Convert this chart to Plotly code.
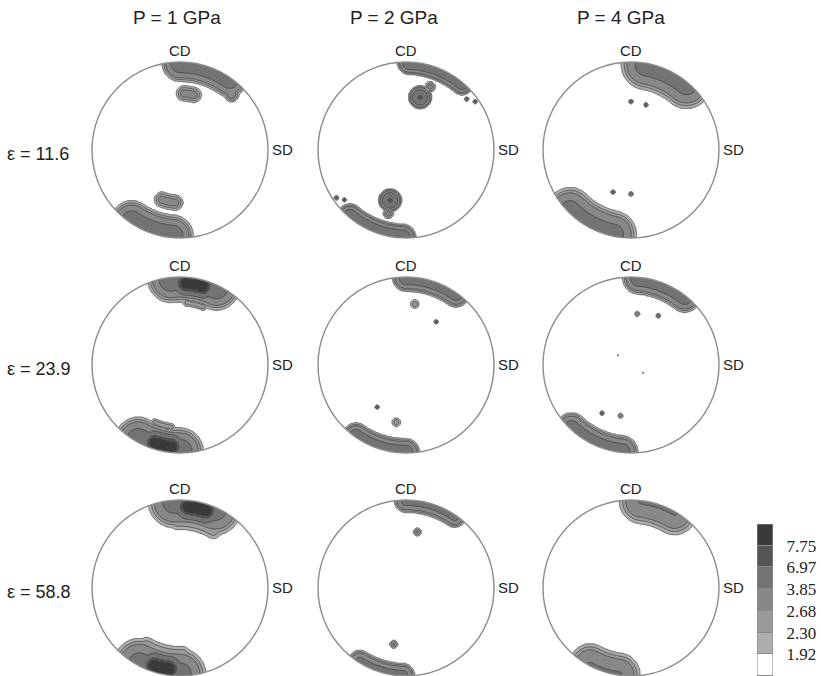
import numpy as np
import plotly.graph_objects as go

# ---------------- data ----------------
levels = [1.92, 2.30, 2.68, 3.85, 6.97, 7.75]
level_labels = ["1.92", "2.30", "2.68", "3.85", "6.97", "7.75"]
band_colors = ["#ffffff", "#aeaeae", "#9a9a9a", "#888888", "#737373", "#555555", "#3a3a3a"]
pressures = ["P = 1 GPa", "P = 2 GPa", "P = 4 GPa"]
strains = ["ε = 11.6", "ε = 23.9", "ε = 58.8"]

# pole-figure texture components:
# (start angle deg, end angle deg, radial position, peak intensity, spread)
# angle 90 = CD (top), 0 = SD (right); radius 1 = rim
e11_p1 = [(90, 55, 0.98, 5.0, 0.145), (47, 47, 0.86, 3.2, 0.08), (86, 76, 0.645, 3.0, 0.09),
          (236, 265, 0.98, 5.0, 0.17), (229, 229, 0.85, 2.7, 0.07), (250, 265, 0.60, 3.0, 0.09)]
e11_p2 = [(88, 50, 0.99, 5.5, 0.09), (75, 75, 0.62, 7.2, 0.08), (69, 69, 0.77, 3.0, 0.06),
          (40, 40, 0.90, 3.0, 0.025), (35, 35, 0.96, 3.0, 0.025),
          (230, 268, 0.99, 5.5, 0.10), (252.5, 252.5, 0.60, 7.2, 0.08), (254.5, 254.5, 0.75, 3.0, 0.06),
          (214.5, 214.5, 0.96, 3.0, 0.025), (219, 219, 0.90, 3.0, 0.025)]
e11_p4 = [(80, 50, 0.98, 4.6, 0.21), (90, 90, 0.55, 3.0, 0.025), (71.6, 71.6, 0.54, 3.0, 0.025),
          (225, 258, 0.98, 4.6, 0.20), (247, 247, 0.52, 3.0, 0.025), (270, 270, 0.50, 3.0, 0.025)]
e24_p1 = [(96, 65, 0.98, 5.0, 0.19), (86, 74, 0.93, 9.5, 0.10), (84, 68, 0.71, 2.5, 0.05),
          (241, 270, 0.98, 5.0, 0.19), (252, 264, 0.93, 9.5, 0.10), (262, 246, 0.71, 2.5, 0.05)]
e24_p2 = [(90, 55, 0.99, 5.0, 0.11), (81.7, 81.7, 0.70, 2.6, 0.06), (55, 55, 0.60, 3.0, 0.025),
          (235, 270, 0.99, 5.0, 0.11), (260.4, 260.4, 0.66, 2.6, 0.06), (235.5, 235.5, 0.58, 3.0, 0.025)]
e24_p4 = [(85, 52, 0.99, 5.0, 0.13), (83, 83, 0.585, 2.6, 0.035), (61, 61, 0.64, 3.0, 0.025),
          (143.7, 143.7, 0.186, 2.1, 0.02), (327, 327, 0.166, 2.1, 0.02),
          (227, 264, 0.99, 5.0, 0.13), (258.3, 258.3, 0.59, 2.6, 0.035), (239, 239, 0.64, 3.0, 0.025)]
e59_p1 = [(94, 66, 0.98, 4.6, 0.22), (84, 72, 0.93, 9.5, 0.11), (92, 60, 0.76, 2.6, 0.12),
          (242, 270, 0.98, 4.6, 0.22), (252, 262, 0.93, 9.5, 0.11), (272, 240, 0.76, 2.6, 0.12)]
e59_p2 = [(90, 56, 0.99, 4.5, 0.10), (78.5, 78.5, 0.65, 2.8, 0.05),
          (238, 268, 0.99, 4.5, 0.10), (257.7, 257.7, 0.655, 2.8, 0.05)]
e59_p4 = [(83, 60, 0.99, 3.9, 0.21), (242, 262, 0.99, 3.9, 0.20)]

panels = [[e11_p1, e11_p2, e11_p4],
          [e24_p1, e24_p2, e24_p4],
          [e59_p1, e59_p2, e59_p4]]

# ---------------- layout geometry ----------------
W, H = 821, 676
col_x = [180, 406, 631]
row_y = [150, 365, 588]
R = 88
title_x = [177, 394, 621]

N = 141
g = np.linspace(-1.03, 1.03, N)
U, V = np.meshgrid(g, g)


def field(feats):
    I = np.zeros_like(U)
    for t1, t2, rho, amp, sig in feats:
        ts = np.radians(np.linspace(t1, t2, 40))
        px, py = rho * np.cos(ts), rho * np.sin(ts)
        d2 = np.min((U[..., None] - px) ** 2 + (V[..., None] - py) ** 2, axis=-1)
        I = np.maximum(I, amp * np.exp(-d2 / (2 * sig ** 2)))
    return I


xp = [0.0] + levels + [100.0]
fp = list(range(len(xp)))
cscale = [[k / 6, band_colors[k]] for k in range(7)]

fig = go.Figure()
shapes = []
annotations = []
txt = dict(family="Liberation Sans", color="#222")
for r in range(3):
    for c in range(3):
        cx, cy = col_x[c], row_y[r]
        I = field(panels[r][c])
        zi = np.interp(I, xp, fp)
        fig.add_trace(go.Contour(
            x=cx + R * g, y=cy - R * g, z=zi,
            autocontour=False,
            contours=dict(start=1, end=6, size=1, coloring="fill"),
            colorscale=cscale, showscale=False,
            line=dict(color="#3c3c3c", width=0.7, smoothing=0.6),
            hoverinfo="skip"))
        s = 1.035 * R
        path = (f"M {cx - s:.2f},{cy - s:.2f} L {cx + s:.2f},{cy - s:.2f} "
                f"L {cx + s:.2f},{cy + s:.2f} L {cx - s:.2f},{cy + s:.2f} Z ")
        tt = np.linspace(2 * np.pi, 0, 181)
        pts = [f"{cx + R * np.cos(t):.2f},{cy + R * np.sin(t):.2f}" for t in tt]
        path += "M " + " L ".join(pts) + " Z"
        shapes.append(dict(type="path", path=path, xref="x", yref="y", fillcolor="white",
                           fillrule="evenodd", line=dict(width=0), layer="above"))
        shapes.append(dict(type="circle", xref="x", yref="y", x0=cx - R, x1=cx + R, y0=cy - R, y1=cy + R,
                           line=dict(color="#8c8c8c", width=1.4), layer="above"))
        annotations.append(dict(x=cx, y=cy - R - 12, text="CD", showarrow=False, xref="x", yref="y",
                                font=dict(size=15, **txt)))
        annotations.append(dict(x=cx + R + 2, y=cy - 1, text="SD", showarrow=False, xref="x", yref="y",
                                xanchor="left", font=dict(size=15, **txt)))

for c in range(3):
    annotations.append(dict(x=title_x[c], y=17, text=pressures[c], showarrow=False, xref="x", yref="y",
                            font=dict(size=19, **txt)))
for r in range(3):
    annotations.append(dict(x=5, y=row_y[r] + 4, text=strains[r], showarrow=False, xref="x", yref="y",
                            xanchor="left", font=dict(size=18, **txt)))

# colour key
fig.add_trace(go.Heatmap(z=[[k] for k in range(7)], x=[0], y=list(range(7)), colorscale=cscale,
                         zmin=0, zmax=6, showscale=False, ygap=1, xaxis="x2", yaxis="y2",
                         hoverinfo="skip"))
shapes.append(dict(type="rect", xref="x2", yref="y2", x0=-0.5, x1=0.5, y0=-0.5, y1=6.5,
                   fillcolor="#8a8a8a", line=dict(width=0), layer="below"))
shapes.append(dict(type="rect", xref="x2", yref="y2", x0=-0.5, x1=0.5, y0=-0.5, y1=6.5,
                   fillcolor="rgba(0,0,0,0)", line=dict(color="#8a8a8a", width=1.2), layer="above"))

fig.update_layout(
    width=W, height=H, margin=dict(l=0, r=0, t=0, b=0),
    paper_bgcolor="white", plot_bgcolor="white", showlegend=False,
    xaxis=dict(domain=[0, 1], range=[0, W], visible=False, fixedrange=True),
    yaxis=dict(domain=[0, 1], range=[H, 0], visible=False, fixedrange=True),
    xaxis2=dict(domain=[757 / W, 773 / W], range=[-0.5, 0.5], visible=False, anchor="y2", fixedrange=True),
    yaxis2=dict(domain=[0, 152 / H], range=[-0.5, 6.5], anchor="x2", side="right",
                tickvals=[k + 0.5 for k in range(6)], ticktext=level_labels,
                tickfont=dict(family="Liberation Serif", size=17, color="#222"),
                ticks="outside", ticklen=9, tickcolor="rgba(0,0,0,0)",
                showgrid=False, zeroline=False, showline=False, fixedrange=True),
    shapes=shapes, annotations=annotations,
)

fig.write_html("out.html")
